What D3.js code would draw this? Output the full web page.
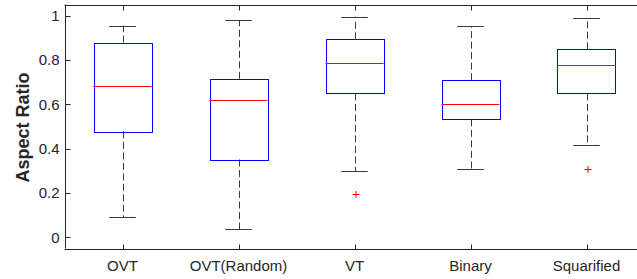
<!DOCTYPE html>
<html>
<head>
<meta charset="utf-8">
<script src="https://cdn.jsdelivr.net/npm/d3@7"></script>
<style>
  html, body { margin: 0; padding: 0; background: #fff; }
  svg { display: block; }
  text { font-family: "Liberation Sans", Arial, Helvetica, sans-serif; fill: #262626; }
</style>
</head>
<body>
<svg id="chart" width="637" height="279"></svg>
<script>
// ---- data ----
const categories = ["OVT", "OVT(Random)", "VT", "Binary", "Squarified"];
const whiskerLow  = [0.090, 0.036, 0.300, 0.309, 0.417];
const q1          = [0.478, 0.351, 0.649, 0.532, 0.649];
const median      = [0.681, 0.618, 0.788, 0.602, 0.776];
const q3          = [0.878, 0.715, 0.893, 0.709, 0.848];
const whiskerHigh = [0.955, 0.979, 0.995, 0.953, 0.987];
const outliers    = [[], [], [0.197], [], [0.309]];
const yTicks = [0, 0.2, 0.4, 0.6, 0.8, 1];
const yLabel = "Aspect Ratio";

const svg = d3.select("#chart");
const mLeft = 64.5, mRight = 644.5, mTop = 4.5, mBottom = 248.5;

const x = d3.scaleLinear().domain([0.5, categories.length + 0.5]).range([mLeft, mRight]);
const y = d3.scaleLinear().domain([-0.05, 1.05]).range([mBottom, mTop]);

const axisColor = "#262626";
const whiskColor = "#3a3a3a";
const boxHalf = 0.25, capHalf = 0.115;
const px = v => Math.round(v) + 0.5;

// axes box lines
const g = svg.append("g");
g.append("line").attr("x1", mLeft).attr("x2", mRight).attr("y1", px(y(1.05))).attr("y2", px(y(1.05)))
  .attr("stroke", axisColor).attr("stroke-width", 1);
g.append("line").attr("x1", mLeft).attr("x2", mRight).attr("y1", px(y(-0.05))).attr("y2", px(y(-0.05)))
  .attr("stroke", axisColor).attr("stroke-width", 1);
g.append("line").attr("x1", px(x(0.5))).attr("x2", px(x(0.5))).attr("y1", mTop).attr("y2", mBottom)
  .attr("stroke", axisColor).attr("stroke-width", 1);

// y ticks (inward) and labels
const yt = g.selectAll(".yt").data(yTicks).enter().append("g");
yt.append("line").attr("x1", px(x(0.5))).attr("x2", px(x(0.5)) + 5)
  .attr("y1", d => px(y(d))).attr("y2", d => px(y(d))).attr("stroke", axisColor);
yt.append("text").attr("x", px(x(0.5)) - 6).attr("y", d => y(d)).attr("dy", "0.35em")
  .attr("text-anchor", "end").attr("font-size", 15).text(d => d3.format("")(d));

// x ticks (inward, bottom and top) and labels
const idx = d3.range(categories.length);
const xt = g.selectAll(".xt").data(idx).enter().append("g");
xt.append("line").attr("x1", i => px(x(i + 1))).attr("x2", i => px(x(i + 1)))
  .attr("y1", px(y(-0.05))).attr("y2", px(y(-0.05)) - 5).attr("stroke", axisColor);
xt.append("line").attr("x1", i => px(x(i + 1))).attr("x2", i => px(x(i + 1)))
  .attr("y1", px(y(1.05))).attr("y2", px(y(1.05)) + 5).attr("stroke", axisColor);
xt.append("text").attr("x", i => x(i + 1)).attr("y", 270.5)
  .attr("text-anchor", "middle").attr("font-size", 15).text(i => categories[i]);

// y label
svg.append("text").attr("transform", `translate(28.5,${(mTop + mBottom) / 2 + 1}) rotate(-90)`)
  .attr("text-anchor", "middle").attr("font-size", 18).attr("font-weight", "bold").text(yLabel);

// boxes
const b = svg.selectAll(".box").data(idx).enter().append("g");
// whiskers dashed
b.append("line").attr("x1", i => px(x(i + 1))).attr("x2", i => px(x(i + 1)))
  .attr("y1", i => y(q3[i])).attr("y2", i => y(whiskerHigh[i]))
  .attr("stroke", whiskColor).attr("stroke-dasharray", "7,3.5");
b.append("line").attr("x1", i => px(x(i + 1))).attr("x2", i => px(x(i + 1)))
  .attr("y1", i => y(q1[i])).attr("y2", i => y(whiskerLow[i]))
  .attr("stroke", whiskColor).attr("stroke-dasharray", "7,3.5");
// caps
b.append("line").attr("x1", i => x(i + 1 - capHalf)).attr("x2", i => x(i + 1 + capHalf))
  .attr("y1", i => px(y(whiskerHigh[i]))).attr("y2", i => px(y(whiskerHigh[i]))).attr("stroke", whiskColor);
b.append("line").attr("x1", i => x(i + 1 - capHalf)).attr("x2", i => x(i + 1 + capHalf))
  .attr("y1", i => px(y(whiskerLow[i]))).attr("y2", i => px(y(whiskerLow[i]))).attr("stroke", whiskColor);
// box
b.append("rect").attr("x", i => px(x(i + 1 - boxHalf))).attr("width", i => Math.round(x(i + 1 + boxHalf) - x(i + 1 - boxHalf)))
  .attr("y", i => px(y(q3[i]))).attr("height", i => Math.round(y(q1[i]) - y(q3[i])))
  .attr("fill", "none").attr("stroke", "#0000ff").attr("stroke-width", 1);
// median
b.append("line").attr("x1", i => x(i + 1 - boxHalf)).attr("x2", i => x(i + 1 + boxHalf))
  .attr("y1", i => px(y(median[i]))).attr("y2", i => px(y(median[i]))).attr("stroke", "#ff0000");
// outliers
const outs = [];
outliers.forEach((arr, i) => arr.forEach(v => outs.push({ i, v })));
const o = svg.selectAll(".out").data(outs).enter().append("g")
  .attr("transform", d => `translate(${px(x(d.i + 1))},${px(y(d.v))})`);
o.append("line").attr("x1", -3).attr("x2", 4).attr("y1", 0).attr("y2", 0).attr("stroke", "#ff0000");
o.append("line").attr("x1", 0.5).attr("x2", 0.5).attr("y1", -3.5).attr("y2", 3.5).attr("stroke", "#ff0000");
</script>
</body>
</html>
